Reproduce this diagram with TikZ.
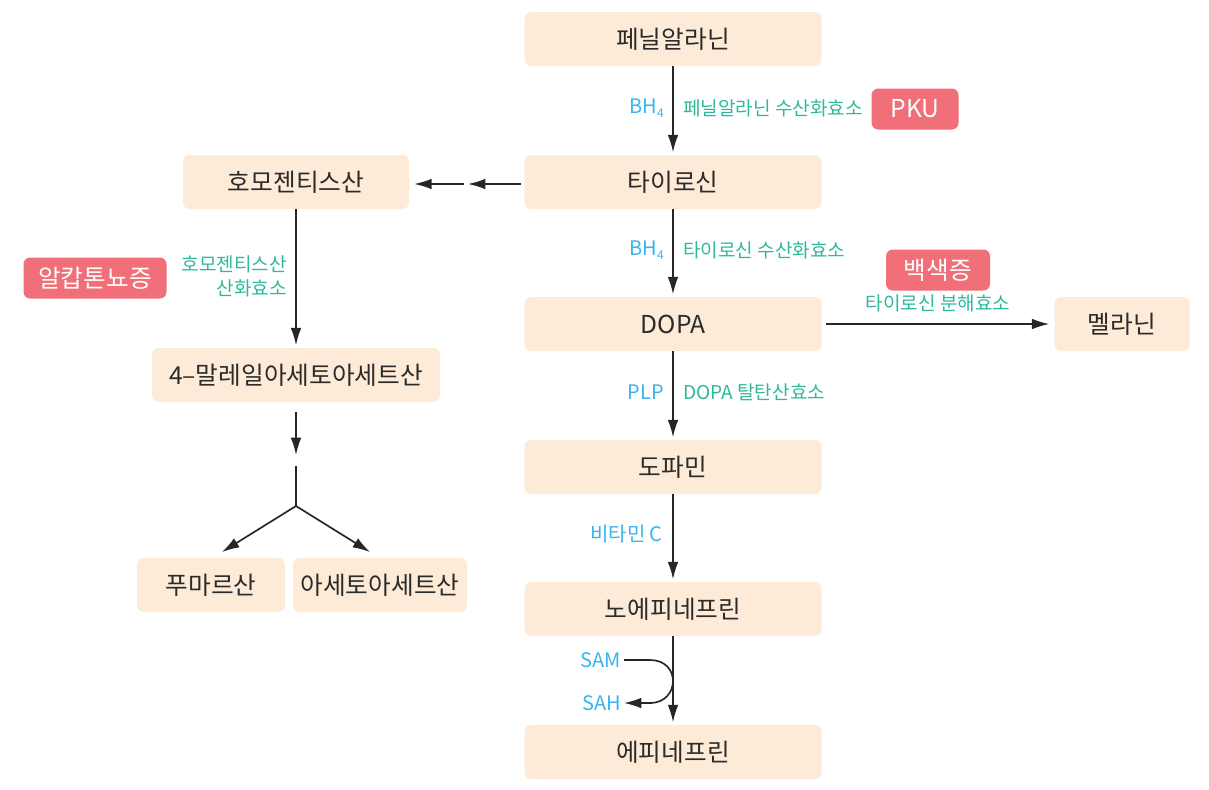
\documentclass[tikz,border=0pt]{standalone}
\usepackage{fontspec}
\setmainfont{Noto Sans CJK KR}
\usetikzlibrary{arrows.meta}
\definecolor{boxfill}{HTML}{FDEBD8}
\definecolor{txt}{HTML}{2B2B2B}
\definecolor{cofac}{HTML}{38B4F0}
\definecolor{enz}{HTML}{2EB89C}
\definecolor{disease}{HTML}{F06F78}
\tikzset{
  compound/.style={fill=boxfill, rounded corners=5pt, minimum width=#1*0.75pt, minimum height=54*0.75pt, inner sep=0pt, font=\fontsize{18.5}{20}\selectfont, text=txt},
  compound/.default=297,
  disbox/.style={fill=disease, rounded corners=5pt, minimum height=41*0.75pt, inner sep=0pt, font=\fontsize{18.5}{20}\selectfont, text=white},
  cof/.style={text=cofac, font=\fontsize{15}{17}\selectfont, inner sep=0pt},
  enzl/.style={text=enz, font=\fontsize{14.3}{18}\selectfont, inner sep=0pt},
  arr/.style={draw=black!85, line width=1.25pt, -{Latex[length=13pt,width=8pt]}},
  ln/.style={draw=black!85, line width=1.25pt}
}
\begin{document}
\begin{tikzpicture}[x=0.75pt,y=-0.75pt]
\useasboundingbox (0,0) rectangle (1209,789);
% main column
\node[compound] (phe) at (673,39) {페닐알라닌};
\node[compound] (tyr) at (673,182) {타이로신};
\node[compound] (dopa) at (673,324) {DOPA};
\node[compound] (dopamine) at (673,467) {도파민};
\node[compound] (norepi) at (673,609) {노에피네프린};
\node[compound] (epi) at (673,752) {에피네프린};
% left column
\node[compound=226] (hga) at (296,182) {호모젠티스산};
\node[compound=288] (mal) at (296,375) {4–말레일아세토아세트산};
\node[compound=148] (fum) at (211,585) {푸마르산};
\node[compound=174] (aca) at (380,585) {아세토아세트산};
% right
\node[compound=135] (mel) at (1122,324) {멜라닌};
% diseases
\node[disbox, minimum width=87*0.75pt] (pku) at (915,109) {PKU};
\node[disbox, minimum width=104*0.75pt] (alb) at (938,270) {백색증};
\node[disbox, minimum width=143*0.75pt] (alk) at (95,278) {알캅톤뇨증};
% arrows main
\draw[arr] (phe) -- ([yshift=2.5*0.75pt]tyr.north);
\draw[arr] (tyr) -- ([yshift=2.5*0.75pt]dopa.north);
\draw[arr] (dopa) -- ([yshift=2.5*0.75pt]dopamine.north);
\draw[arr] (dopamine) -- ([yshift=2.5*0.75pt]norepi.north);
\draw[arr] (norepi) -- ([yshift=2.5*0.75pt]epi.north);
\draw[arr] (dopa.east) ++(4,0) coordinate (dE) -- ([xshift=-5*0.75pt]mel.west);
% tyr -> hga double arrow
\coordinate (m1) at (468,184);
\draw[arr] ([xshift=-3*0.75pt]tyr.west |- m1) -- (m1);
\draw[arr] (464,184) coordinate (m2) -- ([xshift=5*0.75pt]hga.east |- m2);
% left column
\draw[arr] (hga) -- ([yshift=2.5*0.75pt]mal.north);
\coordinate (gapBot) at (296,455);
\draw[arr] (mal.south) ++(0,10) -- (gapBot);
\coordinate (br0) at (296,466);
\coordinate (br) at (296,506);
\draw[ln] (br0) -- (br);
\draw[arr] (br) -- (222,552);
\draw[arr] (br) -- (370,552);
% labels
\node[cof, anchor=east] (bh1) at (664,108) {BH\raisebox{-0.35ex}{\fontsize{9}{10}\selectfont 4}};
\node[enzl, anchor=west] (e1) at (683,108) {페닐알라닌 수산화효소};
\node[cof, anchor=east] (bh2) at (664,250) {BH\raisebox{-0.35ex}{\fontsize{9}{10}\selectfont 4}};
\node[enzl, anchor=west] (e2) at (683,250) {타이로신 수산화효소};
\node[cof, anchor=east] (plp) at (664,392) {PLP};
\node[enzl, anchor=west] (e3) at (683,392) {DOPA 탈탄산효소};
\node[cof, anchor=east] (vitc) at (663,534) {비타민 C};
\node[enzl] (e4) at (938,303) {타이로신 분해효소};
\node[enzl, anchor=east, align=right] (e5) at (287,276) {호모젠티스산\\산화효소};
% SAM / SAH
\node[cof, anchor=east] (sam) at (621,660) {SAM};
\node[cof, anchor=east] (sah) at (621,703) {SAH};
\draw[ln] ([xshift=3*0.75pt]sam.east) -- (650,660) .. controls (665,660) and (673,670) .. (673,681)
  .. controls (673,692) and (665,703) .. (650,703);
\draw[arr] (652,703) -- ([xshift=3*0.75pt]sah.east);
\end{tikzpicture}
\end{document}
